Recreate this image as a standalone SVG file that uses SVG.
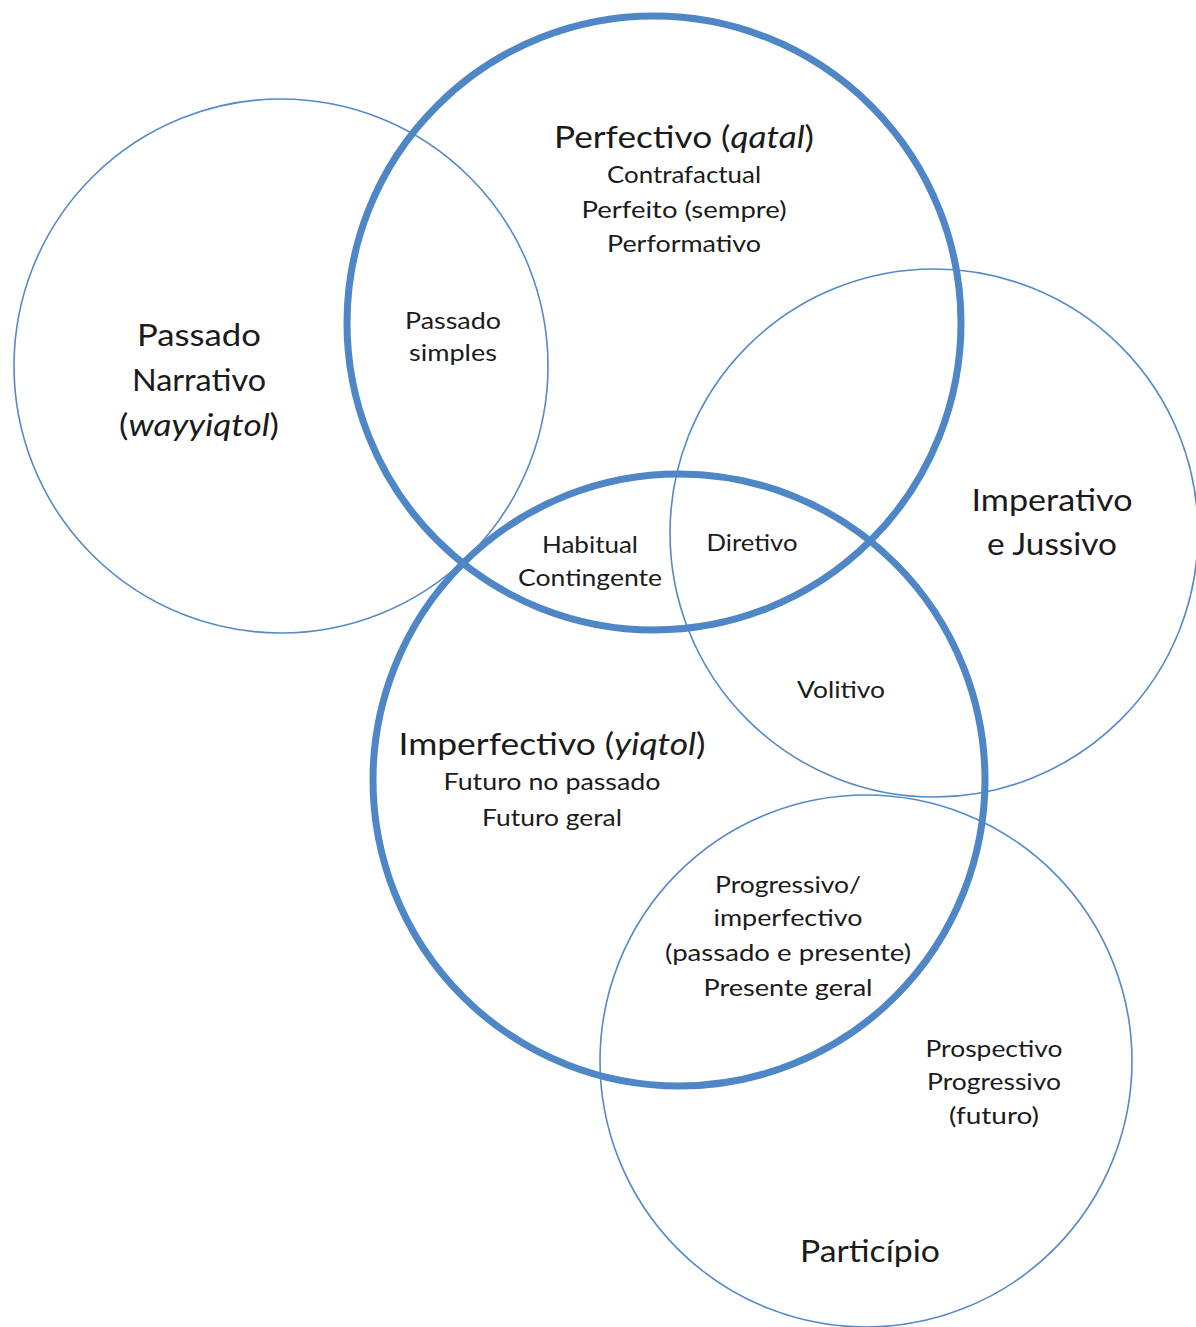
<svg xmlns="http://www.w3.org/2000/svg" width="1196" height="1327" viewBox="0 0 1196 1327">
  <style>
    .ring-thin { fill: none; stroke: #5589c8; stroke-width: 1.6; }
    .ring-thick { fill: none; stroke: #4f86c6; stroke-width: 7; }
    text { font-family: Lato, "Liberation Sans", sans-serif; fill: #1b1b1b; text-anchor: middle; }
    .big { font-size: 31px; }
    .mid { font-size: 24px; }
    .sm { font-size: 23px; }
  </style>
  <rect width="1196" height="1327" fill="#ffffff"/>

  <!-- circle outlines: thin sets first, thick sets on top -->
  <g id="connectors">
    <circle id="ring-passado" class="ring-thin" cx="281" cy="366" r="267"/>
    <circle id="ring-imperativo" class="ring-thin" cx="934" cy="533" r="264"/>
    <circle id="ring-participio" class="ring-thin" cx="866" cy="1061" r="266"/>
    <circle id="ring-perfectivo" class="ring-thick" cx="654" cy="323" r="307"/>
    <circle id="ring-imperfectivo" class="ring-thick" cx="679" cy="780" r="306"/>
  </g>

  <g id="node-perfectivo">
    <text class="big" x="684" y="148" textLength="260" lengthAdjust="spacingAndGlyphs">Perfectivo (<tspan font-style="italic">qatal</tspan>)</text>
    <text class="mid" x="684" y="183" textLength="154" lengthAdjust="spacingAndGlyphs">Contrafactual</text>
    <text class="mid" x="684" y="218" textLength="205" lengthAdjust="spacingAndGlyphs">Perfeito (sempre)</text>
    <text class="mid" x="684" y="252" textLength="154" lengthAdjust="spacingAndGlyphs">Performativo</text>
  </g>

  <g id="node-passado-narrativo">
    <text class="big" x="199" y="346" textLength="124" lengthAdjust="spacingAndGlyphs">Passado</text>
    <text class="big" x="199" y="391" textLength="134" lengthAdjust="spacingAndGlyphs">Narrativo</text>
    <text class="big" x="199" y="436" textLength="160" lengthAdjust="spacingAndGlyphs">(<tspan font-style="italic">wayyiqtol</tspan>)</text>
  </g>

  <g id="node-passado-simples">
    <text class="sm" x="453" y="329" textLength="96" lengthAdjust="spacingAndGlyphs">Passado</text>
    <text class="sm" x="453" y="361" textLength="88" lengthAdjust="spacingAndGlyphs">simples</text>
  </g>

  <g id="node-imperativo">
    <text class="big" x="1052" y="511" textLength="161" lengthAdjust="spacingAndGlyphs">Imperativo</text>
    <text class="big" x="1052" y="555" textLength="130" lengthAdjust="spacingAndGlyphs">e Jussivo</text>
  </g>

  <g id="node-habitual">
    <text class="sm" x="590" y="553" textLength="96" lengthAdjust="spacingAndGlyphs">Habitual</text>
    <text class="sm" x="590" y="586" textLength="144" lengthAdjust="spacingAndGlyphs">Contingente</text>
  </g>

  <g id="node-diretivo">
    <text class="sm" x="752" y="551" textLength="91" lengthAdjust="spacingAndGlyphs">Diretivo</text>
  </g>

  <g id="node-volitivo">
    <text class="sm" x="841" y="698" textLength="88" lengthAdjust="spacingAndGlyphs">Volitivo</text>
  </g>

  <g id="node-imperfectivo">
    <text class="big" x="552" y="755" textLength="307" lengthAdjust="spacingAndGlyphs">Imperfectivo (<tspan font-style="italic">yiqtol</tspan>)</text>
    <text class="mid" x="552" y="790" textLength="217" lengthAdjust="spacingAndGlyphs">Futuro no passado</text>
    <text class="mid" x="552" y="826" textLength="140" lengthAdjust="spacingAndGlyphs">Futuro geral</text>
  </g>

  <g id="node-progressivo">
    <text class="mid" x="788" y="893" textLength="146" lengthAdjust="spacingAndGlyphs">Progressivo/</text>
    <text class="mid" x="788" y="926" textLength="149" lengthAdjust="spacingAndGlyphs">imperfectivo</text>
    <text class="mid" x="788" y="961" textLength="246" lengthAdjust="spacingAndGlyphs">(passado e presente)</text>
    <text class="mid" x="788" y="996" textLength="169" lengthAdjust="spacingAndGlyphs">Presente geral</text>
  </g>

  <g id="node-prospectivo">
    <text class="mid" x="994" y="1057" textLength="137" lengthAdjust="spacingAndGlyphs">Prospectivo</text>
    <text class="mid" x="994" y="1090" textLength="134" lengthAdjust="spacingAndGlyphs">Progressivo</text>
    <text class="mid" x="994" y="1124" textLength="90" lengthAdjust="spacingAndGlyphs">(futuro)</text>
  </g>

  <g id="node-participio">
    <text class="big" x="870" y="1262" textLength="140" lengthAdjust="spacingAndGlyphs">Particípio</text>
  </g>
</svg>
